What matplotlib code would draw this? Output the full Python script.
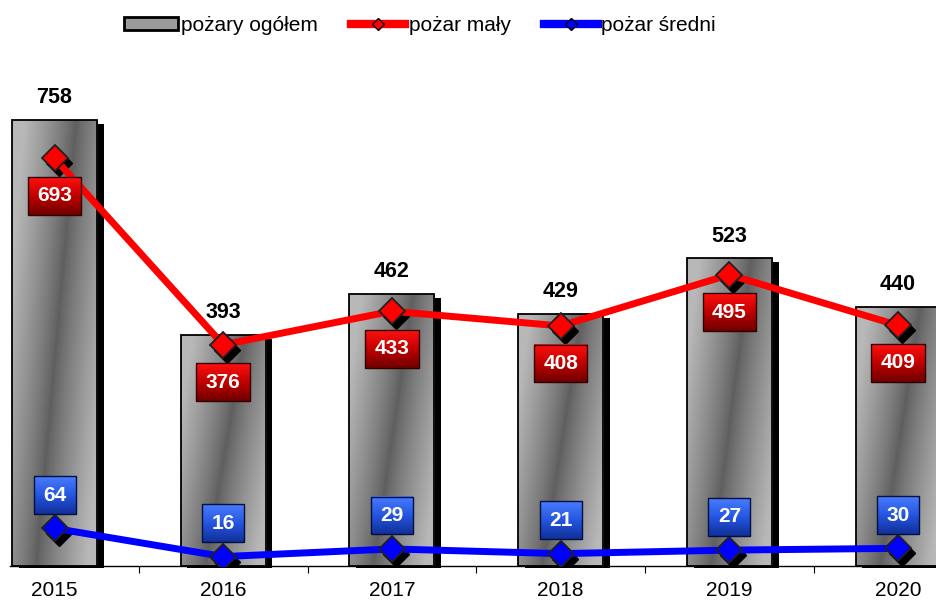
import numpy as np
import matplotlib
matplotlib.use("Agg")
import matplotlib.pyplot as plt
from matplotlib.patches import Rectangle, Patch
from matplotlib.lines import Line2D
from matplotlib.transforms import ScaledTranslation
from matplotlib.colors import LinearSegmentedColormap

plt.rcParams['font.family'] = ['Liberation Sans', 'DejaVu Sans']

# dane
lata = ['2015', '2016', '2017', '2018', '2019', '2020']
ogolem = [758, 393, 462, 429, 523, 440]
maly = [693, 376, 433, 408, 495, 409]
sredni = [64, 16, 29, 21, 27, 30]

fig = plt.figure(figsize=(9.37, 6), dpi=100)
ax = fig.add_axes([10 / 937, 34 / 600, 927 / 937, 506 / 600])

x = np.arange(len(lata))
szer = 0.504

# osie - najpierw ticki, potem zakresy (set_xticks rozszerza zakres)
for s in ['top', 'right', 'left']:
    ax.spines[s].set_visible(False)
ax.spines['bottom'].set_linewidth(1)
ax.set_yticks([])
ax.set_xticks(np.arange(-0.5, 6, 1))
ax.set_xticklabels([])
ax.tick_params(axis='x', which='major', length=5, direction='out')
ax.set_xticks(x, minor=True)
ax.set_xticklabels(lata, minor=True, fontsize=15)
ax.tick_params(axis='x', which='minor', length=0, pad=11)

# cien pod slupkami i slupki z gradientem
dx = 0.040
dy = 7
ny, nx = 400, 120
xf = np.linspace(0, 1, nx)[None, :]
yf = np.linspace(1, 0, ny)[:, None]
odl = np.clip(np.abs(xf - (0.28 + 0.47 * yf)) / 0.6, 0, 1)
gradient = 0.37 + 0.35 * odl ** 0.85
for xi, h in zip(x, ogolem):
    ax.add_patch(Rectangle((xi - szer / 2 + dx, -4), szer, h - dy + 4,
                           facecolor='black', edgecolor='none', zorder=1,
                           clip_on=False))
    rect = Rectangle((xi - szer / 2, 0), szer, h, facecolor='none',
                     edgecolor='black', lw=1.3, zorder=3)
    ax.add_patch(rect)
    im = ax.imshow(gradient, cmap='gray', vmin=0, vmax=1, aspect='auto',
                   extent=(xi - szer / 2, xi + szer / 2, 0, h), zorder=2,
                   interpolation='bilinear')
    im.set_clip_path(rect)
    ax.text(xi, h + 20, str(h), ha='center', va='bottom', fontsize=15.5,
            fontweight='bold', color='black', zorder=6)

# linie z markerami i cieniem markerow
cien = ax.transData + ScaledTranslation(4 / 100, -5 / 100, fig.dpi_scale_trans)
for seria, kolor in [(maly, '#ff0000'), (sredni, '#0000ff')]:
    ax.plot(x, seria, color='black', ls='none', marker='D', markersize=13,
            transform=cien, zorder=4)
    ax.plot(x, seria, color=kolor, lw=5, marker='D', markersize=13,
            markerfacecolor=kolor, markeredgecolor='#202020',
            markeredgewidth=1.3, zorder=5, solid_capstyle='round')

ax.set_xlim(-0.264, 5.231)
ax.set_ylim(0, 860)

# etykiety w ramkach
etykiety = []
for xi, v in zip(x, maly):
    t = ax.annotate(str(v), (xi, v), xytext=(0, -27), textcoords='offset points',
                    ha='center', va='center', fontsize=15, fontweight='bold',
                    color='white', zorder=7,
                    bbox=dict(boxstyle='square,pad=0.45', facecolor='none',
                              edgecolor='#300000', lw=1))
    etykiety.append((t, ['#ff1010', '#c00000', '#700000']))
for xi, v in zip(x, sredni):
    t = ax.annotate(str(v), (xi, v), xytext=(0, 24), textcoords='offset points',
                    ha='center', va='center', fontsize=15, fontweight='bold',
                    color='white', zorder=7,
                    bbox=dict(boxstyle='square,pad=0.45', facecolor='none',
                              edgecolor='#001040', lw=1))
    etykiety.append((t, ['#4a7cff', '#2456e0', '#12309a']))

# gradient w ramkach etykiet
fig.canvas.draw()
inv = ax.transData.inverted()
for t, kolory in etykiety:
    bb = t.get_bbox_patch().get_window_extent()
    (x0, y0), (x1, y1) = inv.transform([(bb.x0, bb.y0), (bb.x1, bb.y1)])
    cm = LinearSegmentedColormap.from_list('g', kolory)
    ax.imshow(np.linspace(0, 1, 50)[:, None], cmap=cm, aspect='auto',
              extent=(x0, x1, y0, y1), zorder=6.5, interpolation='bilinear')
ax.set_xlim(-0.264, 5.231)
ax.set_ylim(0, 860)

# legenda
uchwyty = [
    Patch(facecolor='#9a9a9a', edgecolor='black', lw=2, label='pożary ogółem'),
    Line2D([0], [0], color='#ff0000', lw=6, marker='D', markersize=6,
           markerfacecolor='#ff0000', markeredgecolor='black', label='pożar mały'),
    Line2D([0], [0], color='#0000ff', lw=6, marker='D', markersize=6,
           markerfacecolor='#0000ff', markeredgecolor='black', label='pożar średni'),
]
fig.legend(handles=uchwyty, loc='center', bbox_to_anchor=(0.448, 0.958),
           ncol=3, frameon=False, fontsize=15, handlelength=2.6,
           handleheight=0.6, handletextpad=0.15, columnspacing=1.6)

fig.savefig('out.png', dpi=100)
